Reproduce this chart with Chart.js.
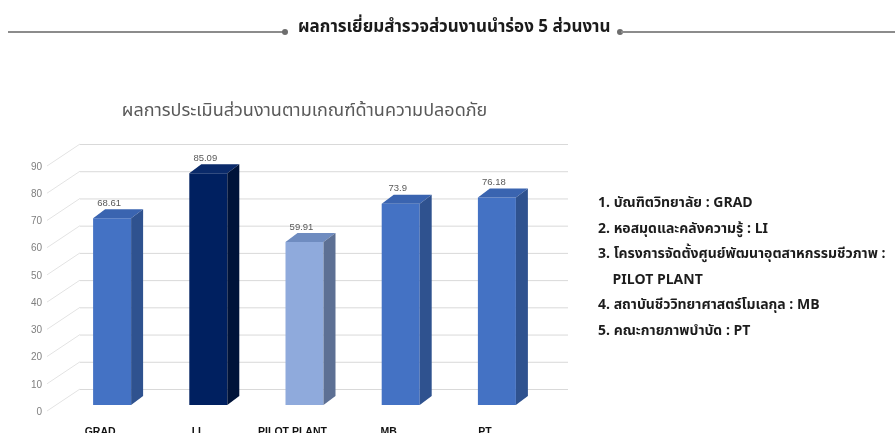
<!DOCTYPE html>
<html>
<head>
<meta charset="utf-8">
<script src="https://cdn.jsdelivr.net/npm/chart.js@4.4.1/dist/chart.umd.min.js"></script>
<style>
    html, body { margin: 0; padding: 0; background: #fff; }
    #wrap { position: relative; width: 895px; height: 433px; overflow: hidden; font-family: "Noto Sans Thai", "Noto Sans", "Liberation Sans", sans-serif; }
    #chartBox { position: absolute; left: 0; top: 0; width: 895px; height: 433px; }
    .hline { position: absolute; top: 31px; height: 2px; background: #8c8c8c; }
    .dot { position: absolute; top: 29px; width: 6px; height: 6px; border-radius: 3px; background: #6e6e6e; }
    #header { position: absolute; left: 298px; top: 14px; font-size: 17px; font-weight: bold; color: #1b1b1b; white-space: nowrap; }
    #legend { position: absolute; left: 598px; top: 193px; font-size: 14px; font-weight: bold; color: #1c1c1c; white-space: nowrap; }
    #legend div { height: 25.6px; line-height: 20px; }
</style>
</head>
<body>
<div id="wrap">
    <div id="chartBox"><canvas id="safetyChart"></canvas></div>
    <div class="hline" style="left:8px; width:276px;"></div>
    <div class="dot" style="left:282px;"></div>
    <div id="header">ผลการเยี่ยมสำรวจส่วนงานนำร่อง 5 ส่วนงาน</div>
    <div class="dot" style="left:617px;"></div>
    <div class="hline" style="left:621px; width:274px;"></div>
    <div id="legend"></div>
</div>

<script>
// ================= DATA =================
const categories = ['GRAD', 'LI', 'PILOT PLANT', 'MB', 'PT'];
const scores = [68.61, 85.09, 59.91, 73.9, 76.18];
const yTicks = [0, 10, 20, 30, 40, 50, 60, 70, 80, 90];
const legendLines = [
    '1. บัณฑิตวิทยาลัย : GRAD',
    '2. หอสมุดและคลังความรู้ : LI',
    '3. โครงการจัดตั้งศูนย์พัฒนาอุตสาหกรรมชีวภาพ :',
    '&nbsp;&nbsp;&nbsp; PILOT PLANT',
    '4. สถาบันชีววิทยาศาสตร์โมเลกุล  : MB',
    '5. คณะกายภาพบำบัด : PT'
];

const frontColors = ['#4472c4', '#002060', '#8faadc', '#4472c4', '#4472c4'];
const sideColors  = ['#2f528f', '#001339', '#5d7094', '#2f528f', '#2f528f'];
const topColors   = ['#3a64b0', '#0a2a6a', '#6f8cc0', '#3a64b0', '#3a64b0'];

// ================= 3D WALL + BAR FACES =================
const wallDX = 33, wallDY = -16;
const barDX = 12, barDY = -9;

const fake3d = {
    id: 'fake3d',
    beforeDatasetsDraw(chart) {
        const ctx = chart.ctx;
        const y = chart.scales.y;
        const area = chart.chartArea;
        ctx.save();
        ctx.lineWidth = 1;
        yTicks.forEach(v => {
            const py = y.getPixelForValue(v);
            // side wall diagonal
            ctx.strokeStyle = '#e3e3e3';
            ctx.beginPath();
            ctx.moveTo(47, py + 6);
            ctx.lineTo(area.left - 64 + 80, py + wallDY);
            ctx.stroke();
            // back wall gridline
            ctx.strokeStyle = '#d9d9d9';
            ctx.beginPath();
            ctx.moveTo(80, py + wallDY + 0.5);
            ctx.lineTo(area.right + 23, py + wallDY + 0.5);
            ctx.stroke();
        });
        ctx.restore();
    },
    afterDatasetsDraw(chart) {
        const ctx = chart.ctx;
        const meta = chart.getDatasetMeta(0);
        ctx.save();
        meta.data.forEach((bar, i) => {
            const l = bar.x - bar.width / 2;
            const r = bar.x + bar.width / 2;
            const t = bar.y, b = bar.base;
            // top face
            ctx.fillStyle = topColors[i];
            ctx.beginPath();
            ctx.moveTo(l, t);
            ctx.lineTo(l + barDX, t + barDY);
            ctx.lineTo(r + barDX, t + barDY);
            ctx.lineTo(r, t);
            ctx.closePath();
            ctx.fill();
            // side face
            ctx.fillStyle = sideColors[i];
            ctx.beginPath();
            ctx.moveTo(r, t);
            ctx.lineTo(r + barDX, t + barDY);
            ctx.lineTo(r + barDX, b + barDY);
            ctx.lineTo(r, b);
            ctx.closePath();
            ctx.fill();
            // value label
            ctx.fillStyle = '#595959';
            ctx.font = '9.5px "Liberation Sans", sans-serif';
            ctx.textAlign = 'center';
            ctx.textBaseline = 'middle';
            ctx.fillText(String(scores[i]), bar.x - 3, t - 15);
        });
        ctx.restore();
    }
};

// ================= CHART =================
function initChart() {
    const ctx = document.getElementById('safetyChart');

    new Chart(ctx, {
        type: 'bar',
        data: {
            labels: categories,
            datasets: [{
                data: scores,
                backgroundColor: frontColors,
                borderWidth: 0,
                barPercentage: 0.395,
                categoryPercentage: 1
            }]
        },
        options: {
            responsive: true,
            maintainAspectRatio: false,
            animation: false,
            layout: { padding: { left: 0, right: 350, top: 0, bottom: 0 } },
            plugins: {
                legend: { display: false },
                tooltip: { enabled: false },
                title: {
                    display: true,
                    fullSize: false,
                    text: 'ผลการประเมินส่วนงานตามเกณฑ์ด้านความปลอดภัย',
                    color: '#595959',
                    font: { family: '"Noto Sans Thai", "Noto Sans", sans-serif', size: 18, weight: 'normal', lineHeight: 1.2 },
                    padding: { top: 102, bottom: 36.4 }
                }
            },
            scales: {
                x: {
                    grid: { display: false, drawTicks: false },
                    border: { display: false },
                    ticks: {
                        color: '#111',
                        font: { family: '"Liberation Sans", sans-serif', size: 10.5, weight: 'bold' },
                        padding: 21,
                        labelOffset: -12,
                        maxRotation: 0,
                        autoSkip: false
                    },
                    afterFit: s => { s.height = 28; }
                },
                y: {
                    min: 0,
                    max: 90,
                    grid: { display: false, drawTicks: false },
                    border: { display: false },
                    ticks: {
                        stepSize: 10,
                        color: '#7f7f7f',
                        font: { family: '"Liberation Sans", sans-serif', size: 10 },
                        padding: 22,
                        labelOffset: 7
                    },
                    afterFit: s => { s.width = 64; }
                }
            }
        },
        plugins: [fake3d]
    });
}

function renderLegend() {
    const box = document.getElementById('legend');
    legendLines.forEach(t => {
        const d = document.createElement('div');
        d.innerHTML = t;
        box.appendChild(d);
    });
}

renderLegend();
initChart();
</script>
</body>
</html>
